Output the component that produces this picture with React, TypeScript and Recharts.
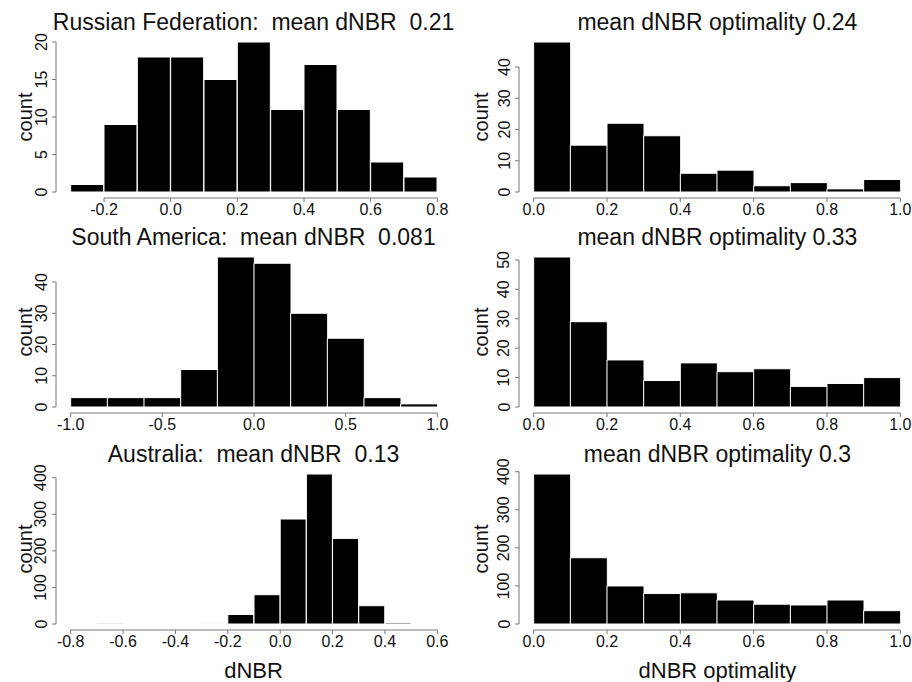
import { BarChart, Bar, XAxis, YAxis, ReferenceLine } from 'recharts';

const FONT = '"Liberation Sans", Arial, Helvetica, sans-serif';

// bin left edges + counts
const ruDnbrBins = [-0.3, -0.2, -0.1, 0.0, 0.1, 0.2, 0.3, 0.4, 0.5, 0.6, 0.7];
const ruDnbrCounts = [1, 9, 18, 18, 15, 20, 11, 17, 11, 4, 2];
const saDnbrBins = [-1.0, -0.8, -0.6, -0.4, -0.2, 0.0, 0.2, 0.4, 0.6, 0.8];
const saDnbrCounts = [3, 3, 3, 12, 48, 46, 30, 22, 3, 1];
const auDnbrBins = [-0.8, -0.7, -0.6, -0.5, -0.4, -0.3, -0.2, -0.1, 0.0, 0.1, 0.2, 0.3, 0.4, 0.5];
const auDnbrCounts = [0, 2, 0, 0, 0, 1, 26, 80, 287, 410, 234, 50, 3, 0];

const optBins = [0.0, 0.1, 0.2, 0.3, 0.4, 0.5, 0.6, 0.7, 0.8, 0.9];
const ruOptCounts = [48, 15, 22, 18, 6, 7, 2, 3, 1, 4];
const saOptCounts = [51, 29, 16, 9, 15, 12, 13, 7, 8, 10];
const auOptCounts = [394, 174, 100, 80, 82, 63, 52, 50, 63, 35];

// tick labels
const ruDnbrTicks = [-0.2, 0.0, 0.2, 0.4, 0.6, 0.8];
const saDnbrTicks = [-1.0, -0.5, 0.0, 0.5, 1.0];
const auDnbrTicks = [-0.8, -0.6, -0.4, -0.2, 0.0, 0.2, 0.4, 0.6];
const optTicks = [0.0, 0.2, 0.4, 0.6, 0.8, 1.0];
const ruDnbrYTicks = [0, 5, 10, 15, 20];
const ruOptYTicks = [0, 10, 20, 30, 40];
const saDnbrYTicks = [0, 10, 20, 30, 40];
const saOptYTicks = [0, 10, 20, 30, 40, 50];
const auYTicks = [0, 100, 200, 300, 400];

const titles = [
  'Russian Federation:  mean dNBR  0.21',
  'mean dNBR optimality 0.24',
  'South America:  mean dNBR  0.081',
  'mean dNBR optimality 0.33',
  'Australia:  mean dNBR  0.13',
  'mean dNBR optimality 0.3',
];

const AXIS = '#777';
const LEFT_X = 55.5;
const RIGHT_X = 519.4;
const PLOT_W = 396;
const PLOT_H = 162;
const ROW_Y = [36, 251, 468];

const YTick = ({ x, y, payload }: any) => (
  <text
    x={x}
    y={y}
    transform={`rotate(-90, ${x}, ${y})`}
    textAnchor="middle"
    fontSize={16}
    fontFamily={FONT}
    fill="#111"
  >
    {payload.value}
  </text>
);

interface HistProps {
  bins: number[];
  binWidth: number;
  counts: number[];
  xTicks: number[];
  yTicks: number[];
  left: number;
  top: number;
}

function Hist({ bins, binWidth, counts, xTicks, yTicks, left, top }: HistProps) {
  const rows = bins.map((b, i) => ({ bin: b, mid: b + binWidth / 2, count: counts[i] }));
  const x0 = bins[0];
  const x1 = bins[bins.length - 1] + binWidth;
  const xlo = x0 - 0.04 * (x1 - x0);
  const xhi = x1 + 0.04 * (x1 - x0);
  const maxC = Math.max(...counts);
  const ylo = -0.04 * maxC;
  const yhi = 1.04 * maxC;
  const pad = (PLOT_W * 0.04) / 1.08;
  const yTop = yTicks[yTicks.length - 1];

  return (
    <div style={{ position: 'absolute', left: left - 55, top: top - 36 }}>
      <BarChart
        width={PLOT_W + 60}
        height={PLOT_H + 76}
        data={rows}
        margin={{ top: 36, right: 5, left: 15, bottom: 10 }}
        barCategoryGap={0}
        barGap={0}
      >
        <XAxis xAxisId="bins" dataKey="bin" hide height={0} padding={{ left: pad, right: pad }} />
        <XAxis
          xAxisId="num"
          type="number"
          dataKey="mid"
          domain={[xlo, xhi]}
          allowDataOverflow
          ticks={xTicks}
          interval={0}
          height={30}
          axisLine={false}
          tickLine={{ stroke: AXIS }}
          tickSize={4}
          tickMargin={2}
          tickFormatter={(v: number) => v.toFixed(1)}
          tick={{ fontSize: 16, fontFamily: FONT, fill: '#111' }}
        />
        <YAxis
          type="number"
          domain={[ylo, yhi]}
          allowDataOverflow
          ticks={yTicks}
          interval={0}
          width={40}
          axisLine={false}
          tickLine={{ stroke: AXIS }}
          tickSize={4}
          tickMargin={5.5}
          tick={<YTick />}
        />
        <Bar
          xAxisId="bins"
          dataKey="count"
          fill="#000"
          stroke="#fff"
          strokeWidth={1}
          isAnimationActive={false}
        />
        <ReferenceLine
          xAxisId="num"
          segment={[{ x: xTicks[0], y: ylo }, { x: xTicks[xTicks.length - 1], y: ylo }]}
          stroke={AXIS}
          ifOverflow="visible"
        />
        <ReferenceLine
          xAxisId="num"
          segment={[{ x: xlo, y: 0 }, { x: xlo, y: yTop }]}
          stroke={AXIS}
          ifOverflow="visible"
        />
      </BarChart>
    </div>
  );
}

export default function App() {
  const cxL = LEFT_X + PLOT_W / 2;
  const cxR = RIGHT_X + PLOT_W / 2;
  return (
    <div
      style={{
        position: 'absolute',
        left: 0,
        top: 0,
        width: 912,
        height: 682,
        overflow: 'hidden',
        background: '#fff',
      }}
    >
      <Hist bins={ruDnbrBins} binWidth={0.1} counts={ruDnbrCounts} xTicks={ruDnbrTicks} yTicks={ruDnbrYTicks} left={LEFT_X} top={ROW_Y[0]} />
      <Hist bins={optBins} binWidth={0.1} counts={ruOptCounts} xTicks={optTicks} yTicks={ruOptYTicks} left={RIGHT_X} top={ROW_Y[0]} />
      <Hist bins={saDnbrBins} binWidth={0.2} counts={saDnbrCounts} xTicks={saDnbrTicks} yTicks={saDnbrYTicks} left={LEFT_X} top={ROW_Y[1]} />
      <Hist bins={optBins} binWidth={0.1} counts={saOptCounts} xTicks={optTicks} yTicks={saOptYTicks} left={RIGHT_X} top={ROW_Y[1]} />
      <Hist bins={auDnbrBins} binWidth={0.1} counts={auDnbrCounts} xTicks={auDnbrTicks} yTicks={auYTicks} left={LEFT_X} top={ROW_Y[2]} />
      <Hist bins={optBins} binWidth={0.1} counts={auOptCounts} xTicks={optTicks} yTicks={auYTicks} left={RIGHT_X} top={ROW_Y[2]} />

      <svg
        width={912}
        height={682}
        style={{ position: 'absolute', left: 0, top: 0, pointerEvents: 'none' }}
        fontFamily={FONT}
        fill="#111"
      >
        {titles.map((t, i) => (
          <text
            key={t}
            x={i % 2 === 0 ? cxL : cxR}
            y={ROW_Y[Math.floor(i / 2)] - 6.5}
            textAnchor="middle"
            fontSize={23}
            style={{ whiteSpace: 'pre' }}
          >
            {t}
          </text>
        ))}
        {ROW_Y.map((y) => (
          <g key={y}>
            <text x={32} y={y + PLOT_H / 2} transform={`rotate(-90, 32, ${y + PLOT_H / 2})`} textAnchor="middle" fontSize={20}>
              count
            </text>
            <text x={488} y={y + PLOT_H / 2} transform={`rotate(-90, 488, ${y + PLOT_H / 2})`} textAnchor="middle" fontSize={20}>
              count
            </text>
          </g>
        ))}
        <text x={cxL} y={677.5} textAnchor="middle" fontSize={22}>dNBR</text>
        <text x={cxR} y={677.5} textAnchor="middle" fontSize={22}>dNBR optimality</text>
      </svg>
    </div>
  );
}
